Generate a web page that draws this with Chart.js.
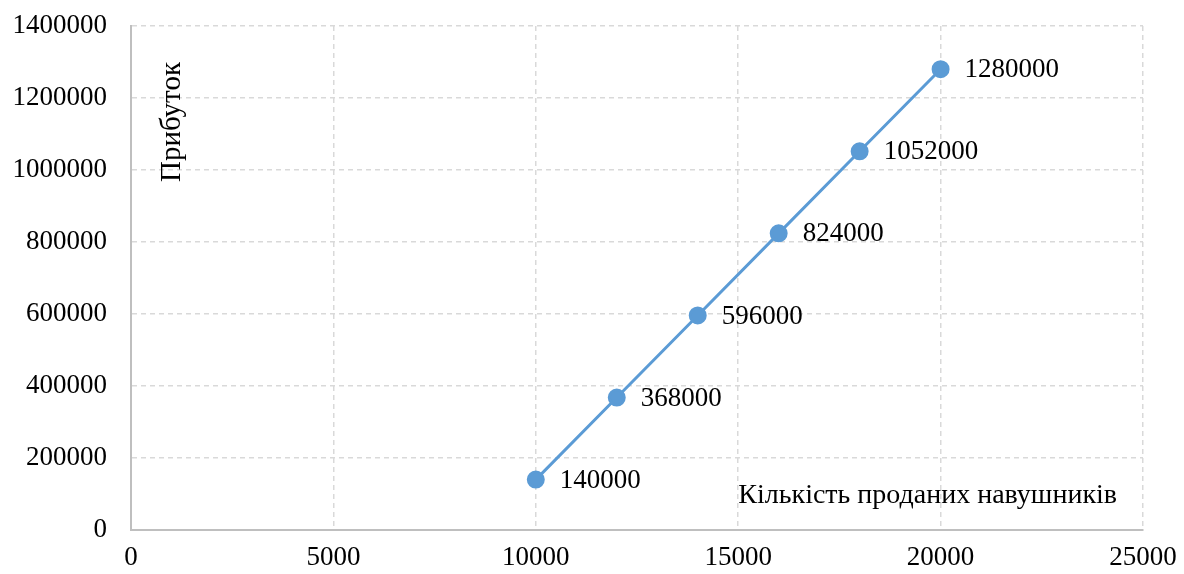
<!DOCTYPE html>
<html>
<head>
<meta charset="utf-8">
<script src="https://cdn.jsdelivr.net/npm/chart.js@4"></script>
<style>
  html, body { margin: 0; padding: 0; background: #fff; }
  #wrap { width: 1184px; height: 574px; }
</style>
</head>
<body>
<div id="wrap"><canvas id="chart"></canvas></div>
<script>
const soldUnits = [10000, 12000, 14000, 16000, 18000, 20000];
const profit = [140000, 368000, 596000, 824000, 1052000, 1280000];
const xTitle = 'Кількість проданих навушників';
const yTitle = 'Прибуток';

const serif = '"Liberation Serif", "Times New Roman", serif';

// labels next to each point + axis titles drawn inside the plot
const labelsPlugin = {
  id: 'pointLabels',
  afterDatasetsDraw(chart) {
    const c = chart.ctx;
    const meta = chart.getDatasetMeta(0);
    const area = chart.chartArea;
    c.save();

    // solid axis lines (grid dash also hits the border)
    c.strokeStyle = '#bfbfbf';
    c.lineWidth = 2;
    c.setLineDash([]);
    c.beginPath();
    c.moveTo(area.left, area.top);
    c.lineTo(area.left, area.bottom);
    c.lineTo(area.right, area.bottom);
    c.stroke();

    c.fillStyle = '#000';
    c.font = '27px ' + serif;
    c.textAlign = 'left';
    c.textBaseline = 'middle';
    meta.data.forEach((pt, i) => {
      c.fillText(String(profit[i]), pt.x + 24, pt.y + 1);
    });

    c.font = '28px ' + serif;
    c.textAlign = 'right';
    c.fillText(xTitle, area.right - 26, area.bottom - 34);

    c.translate(area.left + 41, area.top + 96);
    c.rotate(-Math.PI / 2);
    c.textAlign = 'center';
    c.font = '29px ' + serif;
    c.fillText(yTitle, 0, 0);
    c.restore();
  }
};

// let layout.padding alone decide the plot edges
function noEdgePadding(s) {
  s.paddingTop = 0;
  s.paddingBottom = 0;
  s.paddingLeft = 0;
  s.paddingRight = 0;
}

new Chart(document.getElementById('chart'), {
  type: 'scatter',
  data: {
    datasets: [{
      data: soldUnits.map((x, i) => ({ x: x, y: profit[i] })),
      showLine: true,
      borderColor: '#5b9bd5',
      backgroundColor: '#5b9bd5',
      borderWidth: 3,
      pointRadius: 7.5,
      pointHoverRadius: 7.5
    }]
  },
  options: {
    responsive: true,
    maintainAspectRatio: false,
    animation: false,
    layout: { padding: { top: 26, right: 41, left: 0, bottom: 0 } },
    plugins: { legend: { display: false }, tooltip: { enabled: false } },
    scales: {
      x: {
        type: 'linear',
        min: 0,
        max: 25000,
        ticks: {
          stepSize: 5000,
          padding: 12,
          color: '#000',
          font: { family: serif, size: 27 },
          maxRotation: 0,
          callback: v => String(v)
        },
        grid: {
          color: '#d9d9d9',
          lineWidth: 1.5,
          drawTicks: false
        },
        border: { color: '#bfbfbf', width: 2, dash: [5, 4] },
        afterFit(s) { s.height = 44; noEdgePadding(s); }
      },
      y: {
        min: 0,
        max: 1400000,
        ticks: {
          stepSize: 200000,
          padding: 24,
          color: '#000',
          font: { family: serif, size: 27 },
          callback: v => String(v)
        },
        grid: {
          color: '#d9d9d9',
          lineWidth: 1.5,
          drawTicks: false
        },
        border: { color: '#bfbfbf', width: 2, dash: [5, 4] },
        afterFit(s) { s.width = 131; noEdgePadding(s); }
      }
    }
  },
  plugins: [labelsPlugin]
});
</script>
</body>
</html>
